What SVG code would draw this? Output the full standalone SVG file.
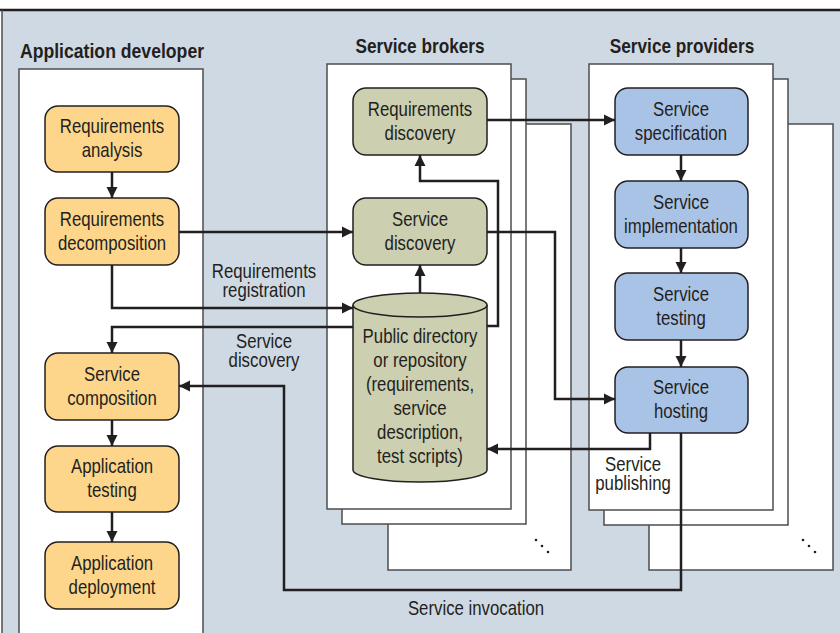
<svg xmlns="http://www.w3.org/2000/svg" width="840" height="633" viewBox="0 0 840 633">
<style>
text{font-family:"Liberation Sans",Arial,sans-serif;fill:#231f20;font-size:20px;text-anchor:middle}
.title{font-weight:bold;font-size:21px}
.panel{fill:#fff;stroke:#4d4d4f;stroke-width:1.5}
.con{fill:none;stroke:#231f20;stroke-width:2.5}
.or{fill:#fdd68b;stroke:#231f20;stroke-width:1.5}
.gr{fill:#cccfb0;stroke:#231f20;stroke-width:1.5}
.bl{fill:#a9c3e7;stroke:#231f20;stroke-width:1.5}
</style>
<defs>
<marker id="ah" viewBox="0 0 10 10" refX="10" refY="5" markerUnits="userSpaceOnUse" markerWidth="11" markerHeight="12" orient="auto">
<path d="M0,0 L10,5 L0,10 z" fill="#231f20"/>
</marker>
</defs>
<rect x="0" y="0" width="840" height="633" fill="#fff"/>
<rect x="2" y="10" width="840" height="630" fill="#cfd9e3"/>
<line x1="0" y1="10" x2="840" y2="10" stroke="#231f20" stroke-width="2.5"/>
<line x1="2" y1="10" x2="2" y2="633" stroke="#4d4d4f" stroke-width="1.5"/>

<g id="panels">
<rect class="panel" x="19" y="69" width="184" height="580"/>
<rect class="panel" x="388" y="124" width="183" height="446"/>
<rect class="panel" x="342" y="79" width="184" height="445"/>
<rect class="panel" x="327" y="64" width="184" height="445"/>
<rect class="panel" x="649" y="124" width="184" height="446"/>
<rect class="panel" x="604" y="79" width="184" height="446"/>
<rect class="panel" x="589" y="64" width="184" height="446"/>
<g fill="#231f20">
<circle cx="536" cy="540" r="1.3"/><circle cx="542" cy="546" r="1.3"/><circle cx="548" cy="552" r="1.3"/>
<circle cx="803" cy="540" r="1.3"/><circle cx="809" cy="546" r="1.3"/><circle cx="815" cy="552" r="1.3"/>
</g>
</g>

<g id="titles">
<text class="title" transform="translate(112,58) scale(0.84,1)">Application developer</text>
<text class="title" transform="translate(420,53) scale(0.82,1)">Service brokers</text>
<text class="title" transform="translate(682,53) scale(0.82,1)">Service providers</text>
</g>

<g id="connectors">
<path class="con" d="M112,172 V198" marker-end="url(#ah)"/>
<path class="con" d="M179,232 H353" marker-end="url(#ah)"/>
<path class="con" d="M112,265 V308 H353" marker-end="url(#ah)"/>
<path class="con" d="M420,293 V265" marker-end="url(#ah)"/>
<path class="con" d="M487,326 H498 V181 H420 V155" marker-end="url(#ah)"/>
<path class="con" d="M487,232 H555 V399 H615" marker-end="url(#ah)"/>
<path class="con" d="M487,120 H615" marker-end="url(#ah)"/>
<path class="con" d="M681,155 V181" marker-end="url(#ah)"/>
<path class="con" d="M681,248 V273" marker-end="url(#ah)"/>
<path class="con" d="M681,340 V367" marker-end="url(#ah)"/>
<path class="con" d="M650,433 V449 H487" marker-end="url(#ah)"/>
<path class="con" d="M681,433 V590 H284 V386 H179" marker-end="url(#ah)"/>
<path class="con" d="M353,327 H112 V353" marker-end="url(#ah)"/>
<path class="con" d="M112,420 V446" marker-end="url(#ah)"/>
<path class="con" d="M112,512 V542" marker-end="url(#ah)"/>
<text transform="translate(264,278) scale(0.84,1)">Requirements</text>
<text transform="translate(264,297) scale(0.84,1)">registration</text>
<text transform="translate(264,348) scale(0.84,1)">Service</text>
<text transform="translate(264,367) scale(0.84,1)">discovery</text>
<text transform="translate(633,471) scale(0.84,1)">Service</text>
<text transform="translate(633,490) scale(0.84,1)">publishing</text>
<text transform="translate(476,615) scale(0.84,1)">Service invocation</text>
</g>

<g id="req-analysis">
<rect class="or" x="45" y="106" width="134" height="66" rx="13"/>
<text transform="translate(112,133) scale(0.84,1)">Requirements</text>
<text transform="translate(112,157) scale(0.84,1)">analysis</text>
</g>
<g id="req-decomposition">
<rect class="or" x="45" y="198" width="134" height="67" rx="13"/>
<text transform="translate(112,226) scale(0.84,1)">Requirements</text>
<text transform="translate(112,250) scale(0.84,1)">decomposition</text>
</g>
<g id="service-composition">
<rect class="or" x="45" y="353" width="134" height="67" rx="13"/>
<text transform="translate(112,381) scale(0.84,1)">Service</text>
<text transform="translate(112,405) scale(0.84,1)">composition</text>
</g>
<g id="app-testing">
<rect class="or" x="45" y="446" width="134" height="66" rx="13"/>
<text transform="translate(112,473) scale(0.84,1)">Application</text>
<text transform="translate(112,497) scale(0.84,1)">testing</text>
</g>
<g id="app-deployment">
<rect class="or" x="45" y="542" width="134" height="67" rx="13"/>
<text transform="translate(112,570) scale(0.84,1)">Application</text>
<text transform="translate(112,594) scale(0.84,1)">deployment</text>
</g>

<g id="req-discovery">
<rect class="gr" x="353" y="88" width="134" height="67" rx="13"/>
<text transform="translate(420,116) scale(0.84,1)">Requirements</text>
<text transform="translate(420,140) scale(0.84,1)">discovery</text>
</g>
<g id="service-discovery">
<rect class="gr" x="353" y="198" width="134" height="67" rx="13"/>
<text transform="translate(420,226) scale(0.84,1)">Service</text>
<text transform="translate(420,250) scale(0.84,1)">discovery</text>
</g>
<g id="repository">
<path class="gr" d="M353,305 A67,12 0 0 1 487,305 V470 A67,12 0 0 1 353,470 Z"/>
<path fill="none" stroke="#231f20" stroke-width="1.5" d="M353,305 A67,12 0 0 0 487,305"/>
<text transform="translate(420,343) scale(0.84,1)">Public directory</text>
<text transform="translate(420,367) scale(0.84,1)">or repository</text>
<text transform="translate(420,391) scale(0.84,1)">(requirements,</text>
<text transform="translate(420,415) scale(0.84,1)">service</text>
<text transform="translate(420,439) scale(0.84,1)">description,</text>
<text transform="translate(420,463) scale(0.84,1)">test scripts)</text>
</g>

<g id="service-specification">
<rect class="bl" x="615" y="88" width="133" height="67" rx="13"/>
<text transform="translate(681,116) scale(0.84,1)">Service</text>
<text transform="translate(681,140) scale(0.84,1)">specification</text>
</g>
<g id="service-implementation">
<rect class="bl" x="615" y="181" width="133" height="67" rx="13"/>
<text transform="translate(681,209) scale(0.84,1)">Service</text>
<text transform="translate(681,233) scale(0.84,1)">implementation</text>
</g>
<g id="service-testing">
<rect class="bl" x="615" y="273" width="133" height="67" rx="13"/>
<text transform="translate(681,301) scale(0.84,1)">Service</text>
<text transform="translate(681,325) scale(0.84,1)">testing</text>
</g>
<g id="service-hosting">
<rect class="bl" x="615" y="367" width="133" height="66" rx="13"/>
<text transform="translate(681,394) scale(0.84,1)">Service</text>
<text transform="translate(681,418) scale(0.84,1)">hosting</text>
</g>
</svg>
